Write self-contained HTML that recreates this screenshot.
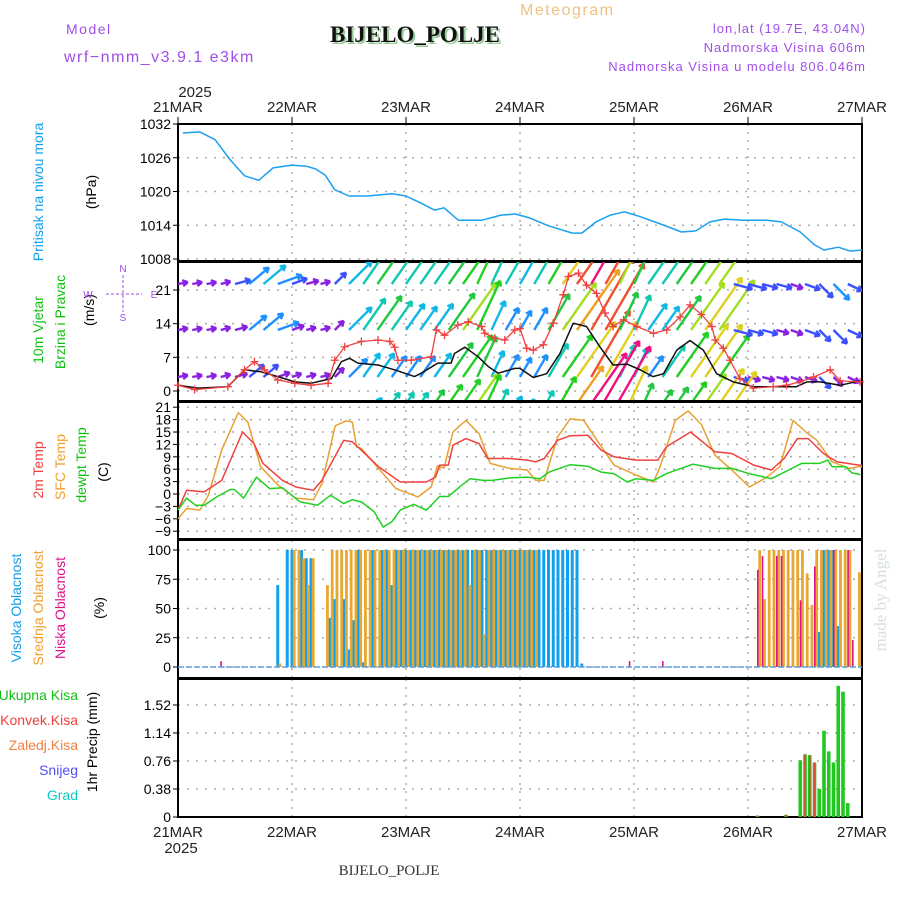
<!DOCTYPE html>
<html><head><meta charset="utf-8">
<style>
html,body{margin:0;padding:0;background:#fff;}
svg{display:block;font-family:"Liberation Sans",sans-serif;}
</style></head>
<body>
<svg id="chart" width="900" height="900" viewBox="0 0 900 900" xmlns="http://www.w3.org/2000/svg">
<defs>
<clipPath id="clipW"><rect x="178" y="262" width="684" height="138"/></clipPath>
</defs>
<text x="66" y="34" font-size="14" fill="#a04ee8" letter-spacing="1.5">Model</text>
<text x="64" y="62" font-size="16" fill="#a04ee8" letter-spacing="1.5">wrf−nmm_v3.9.1 e3km</text>
<text x="332" y="44" font-size="23" font-weight="bold" font-family="Liberation Serif,serif" fill="#9c9">BIJELO_POLJE</text>
<text x="330" y="42" font-size="23" font-weight="bold" font-family="Liberation Serif,serif" fill="#111">BIJELO_POLJE</text>
<text x="520" y="15" font-size="16" fill="#f0c080" letter-spacing="1.5">Meteogram</text>
<text x="866" y="33" font-size="13" fill="#a04ee8" text-anchor="end" letter-spacing="1">lon,lat (19.7E, 43.04N)</text>
<text x="866" y="52" font-size="13" fill="#a04ee8" text-anchor="end" letter-spacing="1">Nadmorska Visina 606m</text>
<text x="866" y="71" font-size="13" fill="#a04ee8" text-anchor="end" letter-spacing="1">Nadmorska Visina u modelu 806.046m</text>
<g id="axes"></g>
<g id="plots"></g>
</svg>
<script>
// ---------- DATA ----------
const dayLabels = ["21MAR","22MAR","23MAR","24MAR","25MAR","26MAR","27MAR"];
const pressureHours = [1,4.6,7.8,11,14,17,20,24,27,29,31,33,36,40,45,48,51,54,56,59,64,68,71,74,78,83,85,88,91,94,97,101,106,109,112,115,119,124,127,131,134,136,139,141.5,144];
const pressureValues = [1030.4,1030.6,1029.2,1025.6,1022.8,1022.0,1024.2,1024.7,1024.5,1024.0,1022.9,1020.3,1019.2,1019.2,1019.6,1019.2,1018.0,1016.7,1017.1,1014.9,1014.9,1015.8,1016.0,1015.3,1013.9,1012.6,1012.6,1014.6,1015.8,1016.4,1015.6,1014.4,1012.8,1013.0,1014.6,1015.1,1014.9,1014.9,1014.6,1012.8,1010.5,1009.6,1010.1,1009.4,1009.6];
const pressureTicks = [1032,1026,1020,1014,1008];

const windTicks = [21,14,7,0];
const speedHours = [0,4.2,10.5,14,17.5,21,24.6,28,32.3,34.4,36.1,37.9,42.1,45.6,49.8,51.2,54.7,57.5,58.2,60.4,63.2,65.3,67.4,70.9,72,74.8,77.6,80.4,83.2,86,88.8,91.6,94.5,97.3,100,102.2,105,107.8,110.6,113.4,116.9,121.1,125.3,130.2,132.4,135.2,139.4,143.6];
const speedValues = [1.2,0.6,0.9,4.4,4,3,1.9,1.6,2.6,6.1,6.8,5.8,5.4,4.4,3,3.7,5.8,5.8,7.8,9.1,7.1,5.1,3.7,4.7,4.7,2.8,3.6,7.8,14.1,13.4,9.2,5.4,5.6,4.4,3,3.6,8.5,10.5,8.5,3.6,1.9,0.9,0.9,0.9,1.9,1.9,1.2,2.1];
const gustHours = [0,3.5,10.5,14,16.1,18.2,21,24.6,28,31.6,33,35.1,38.6,42.1,44.6,45.6,46.3,49.1,53.3,54.4,56.1,58.9,61.1,63.9,64.6,66.7,68.8,70.9,72,73.4,74.8,76.9,79,81.1,82.2,84.3,86,88.1,89.9,91.6,93.8,96.6,100.1,102.9,105.7,107.8,110.2,112.4,113.1,114.8,116.2,118.3,121.1,125.3,128.1,130.9,133.8,137.3,139.4,143.6];
const gustValues = [1.2,0.3,0.9,4.4,6.1,4.4,2.3,1.6,1.2,1.6,6.4,9.2,10.3,10.6,10.3,9.1,6.4,6.4,7.1,12.7,11.6,13.7,14.4,13.4,12,11,10.6,12.7,13,8.9,8.5,9.6,14.1,20,23.8,24.5,22,20.3,16.2,13.4,14.8,13.4,12,12.7,15.4,17.9,15.9,13.4,10.6,8.9,6.4,2.6,0.6,0.9,1.2,1.9,2.9,4.4,2.1,1.9];
// wind arrows every 3 hours, four levels
const windRowA = [3,3,3,3,4,6,6,4,3,3,3,4,8,9,9,8,8,8,9,13,16,14,9,8,7,8,12,16,21,24,20,11,10,8,12,17,20,20,16,5,4,4,4,4,4,5,4,4,4];
const windRowB = [3,3,3,3,4,7,8,7,4,3,3,4,10,12,13,11,10,9,10,14,18,17,10,8,7,8,13,18,23,26,24,13,12,10,9,13,18,20,19,6,5,5,4,4,5,5,6,5,5];
const windRowC = [3,3,3,3,5,8,9,8,5,4,3,5,10,12,13,12,11,11,12,14,17,16,12,11,10,11,15,20,26,28,26,18,13,12,12,14,16,18,18,6,6,5,5,4,5,6,7,5,5];
const windRowD = [2,2,2,2,3,5,6,5,3,3,3,4,8,10,12,12,12,13,15,17,19,17,12,10,9,12,17,22,27,30,28,20,14,13,14,16,19,21,20,4,4,4,4,4,4,5,5,4,4];
const windDir6h = [10,10,15,40,20,15,45,55,55,55,55,65,60,60,55,60,65,55,55,55,-15,-15,-20,-45,-25];

const tempTicks = [21,18,15,12,9,6,3,0,-3,-6,-9];
const t2Hours = [0,1.8,5.5,9.2,13.6,16,17.9,22,24.8,28.5,30.3,34.9,36.7,38.6,42.2,46.8,52.3,54.2,55.1,56.9,57.9,60.6,63.4,65.2,69.8,73.5,75.3,77.1,79.9,82.6,86.3,89.1,91.8,96.4,101,102.8,107.9,113,116.6,121.2,124.9,127.6,130.4,132.7,135.9,138.7,143.3,144];
const t2Values = [-3.9,0.9,0.5,3.3,15,12.2,7.4,3.3,1.7,0.9,3.3,13,12.6,10.6,6.6,2.9,2.9,4.1,7,7,11.8,13.4,12.2,8.6,8.6,8.2,7.8,8.6,13,14.1,14.2,10.6,9,8.2,8.2,11.4,15,10.2,9.8,7,5.8,8.6,13.4,13.4,9.8,7.8,7,7];
const sfcHours = [0,1.8,4.6,6.4,9.2,12.7,14.7,17.4,21.1,24.8,28.5,30.3,33.1,35.4,36.7,37.6,38.6,41.3,45.9,50.5,53.3,54.6,56,57.9,59.2,60.6,63.4,65.7,69.8,73.5,75.3,77.1,79.9,82.6,85.4,88.2,91.8,96.4,100.1,101.5,104.7,107.4,110.2,113,116.6,120.3,124,126.7,129.5,132.2,134.5,137.7,141.4,143.3,144];
const sfcValues = [-6,-3.5,-3.9,-0.3,10.6,19.7,17.4,6.6,2.1,-1,-1.4,2.5,16.5,17.7,17.4,11.4,11,7.4,1.3,-0.7,1.7,6.8,6.3,15,16.4,17.8,14.6,7.4,6.2,5.8,3.3,3.3,13.8,18.2,17.8,13,7,4.6,2.9,6.6,17.8,20.1,16.8,9.4,5.8,1.7,4.1,6.6,17.8,15,13,7.8,6.2,6.6,6.6];
const dewHours = [0,1.8,3.7,5.5,8.3,11,11.9,13.8,16.5,19.3,22,25.7,29.4,32.1,34.9,36.7,38.6,41.3,43.2,45,46.8,49.6,52.3,55.1,56.9,59.7,61.5,64.3,66.1,69.8,73.5,76.2,78.1,82.6,86.3,89.1,91.8,94.6,96.4,100.1,102.8,108.4,113,116.6,120.3,124.9,128.6,131.3,135,136.8,137.7,140.5,141.9,143.7];
const dewValues = [-3.9,-1,-2.7,-2.7,-0.6,1.1,1.1,-1,4.1,1.3,1.5,-1.9,-2.7,-0.3,-2.3,-1.4,-1.9,-4.3,-8,-6.7,-3.9,-2.5,-3.9,-0.6,-0.6,2.1,3.7,3.3,3.3,3.9,4.1,3.7,5.3,7.1,6.7,5.3,4.9,2.9,3.7,3.3,4.9,7.2,6.2,6.2,4.9,3.7,5.8,7.4,7.4,8.2,6.6,6.6,5.1,4.7];

const cloudTicks = [100,75,50,25,0];
const highCloud = [
0,0,0,0,0,0,0,0,0,0, 0,0,0,0,0,0,0,0,0,0,
0,70,0,100,100,0,100,93,93,0, 0,0,42,58,0,58,15,40,100,4,
0,100,0,100,100,70,100,100,100,100, 100,100,100,100,100,100,100,100,100,100,
100,100,100,100,100,100,100,100,100,100, 100,100,100,100,100,100,100,100,100,100,
100,100,100,100,100,3,0,0,0,0, 0,0,0,0,0,0,0,0,0,0,
0,0,0,0,0,0,0,0,0,0, 0,0,0,0,0,0,0,0,0,0,
0,0,0,0,0,0,0,0,0,0, 0,0,0,0,0,30,100,100,100,35,
0,0,0,0,0];
const midCloud = [
0,0,0,0,0,0,0,0,0,0, 0,0,0,0,0,0,0,0,0,0,
0,3,0,0,100,100,93,70,93,0, 0,70,100,100,100,100,100,100,100,100,
100,100,100,100,100,100,100,100,100,100, 100,100,100,100,100,100,100,100,100,100,
100,70,100,100,28,100,100,100,100,100, 100,100,100,100,100,100,0,0,0,0,
0,0,0,0,0,0,0,0,0,0, 0,0,0,0,0,0,0,0,0,0,
0,0,0,0,0,0,0,0,0,0, 0,0,0,0,0,0,0,0,0,0,
0,0,100,58,100,100,100,100,100,100, 100,100,80,53,100,100,100,100,100,100,
100,100,0,81,0];
const lowCloud = [
0,0,0,0,0,0,0,0,0,5, 0,0,0,0,0,0,0,0,0,0,
0,0,0,0,0,0,0,0,0,0, 0,0,0,0,0,0,0,0,0,0,
0,0,0,0,0,0,0,0,0,0, 0,0,0,0,0,0,0,0,0,0,
0,0,0,0,0,0,0,0,0,0, 0,0,0,0,0,0,0,0,0,0,
0,0,0,0,0,0,0,0,0,0, 0,0,0,0,0,5,0,0,0,0,
0,0,5,0,0,0,0,0,0,0, 0,0,0,0,0,0,0,0,0,0,
0,0,83,95,0,0,95,95,0,0, 0,57,0,0,86,0,0,0,100,0,
0,100,23,0,0];

const precipTicks = [1.52,1.14,0.76,0.38,0];
const precipHours = [122,128,131,132,133,134,135,136,137,138,139,140,141];
const precipTotal = [0.02,0.03,0.77,0.85,0.84,0.74,0.38,1.17,0.89,0.74,1.78,1.7,0.19];
const precipConv = [0.02,0.03,0,0.85,0.84,0.74,0,0,0,0,0,0,0];

// ---------- SCALES ----------
const X0=178, X1=862;
const xH = h => X0 + h*(X1-X0)/144;
const yP = p => 124 + (1032-p)*5.625;
const yW = v => 391 - v*4.81;
const yT = t => 494 - t*4.133;
const yC = c => 667 - c*1.17;
const yR = r => 817 - r*73.7;

const NS="http://www.w3.org/2000/svg";
const axes=document.getElementById('axes');
const plots=document.getElementById('plots');
function mk(tag, attrs, parent){
  const e=document.createElementNS(NS,tag);
  for(const k in attrs) e.setAttribute(k,attrs[k]);
  (parent||plots).appendChild(e);
  return e;
}
function txt(x,y,s,size,fill,anchor,rot,parent){
  const t=mk('text',{x:x,y:y,'font-size':size,fill:fill,'text-anchor':anchor||'start'},parent||axes);
  if(rot) t.setAttribute('transform','rotate(-90 '+x+' '+y+')');
  t.textContent=s;
  return t;
}

// ---------- PANELS / GRID ----------
const panels=[[124,261,'pressure'],[262,401,'wind'],[402,539,'temperature'],[540,678,'cloud'],[679,817,'precip']];
panels.forEach(p=>{
  for(let d=1; d<6; d++){
    const gl=mk('line',{x1:xH(d*24),x2:xH(d*24),y1:p[0],y2:p[1],stroke:'#aaa','stroke-width':1.5,'stroke-dasharray':'2,6'},axes);
    
    
  }
});
function hgrid(vals, yf, name, tickFmt){
  vals.forEach(v=>{
    const y=yf(v);
    const g=mk('line',{x1:X0,x2:X1,y1:y,y2:y,stroke:'#aaa','stroke-width':1.5,'stroke-dasharray':'2,7'},axes);
    
    
    const tk=mk('line',{x1:X0-5,x2:X0,y1:y,y2:y,stroke:'#000','stroke-width':1},axes);
    
    
    const t=txt(X0-7,y+5,tickFmt?tickFmt(v):String(v).replace('-','−'),14,'#000','end');
    
    
  });
}
hgrid(pressureTicks,yP,'pressure-axis');
hgrid(windTicks,yW,'wind-axis');
hgrid(tempTicks,yT,'temp-axis');
hgrid(cloudTicks,yC,'cloud-axis');
hgrid(precipTicks,yR,'precip-axis',v=>v===0?'0':String(v));
panels.forEach(p=>{
  const r=mk('rect',{x:X0,y:p[0],width:X1-X0,height:p[1]-p[0],fill:'none',stroke:'#000','stroke-width':2},axes);
  
  
});
dayLabels.forEach((d,i)=>{
  const x=xH(i*24);
  const a=txt(x,112,d,15,'#222','middle');
  
  
  const b=txt(x,837,d,15,'#222','middle');
  
  
  const tk=mk('line',{x1:x,x2:x,y1:117,y2:124,stroke:'#000'},axes);
  
  
});
[[195,97,'top-year-label'],[181,853,'bottom-year-label']].forEach(a=>{
  const t=txt(a[0],a[1],'2025',15,'#222','middle');
  
  
});

// ---------- LEFT LABELS ----------
function rlab(x,y,s,col,name,size){
  const t=txt(x,y,s,size||14,col,'middle',true);
  
  
}
rlab(43,192,'Pritisak na nivou mora','#10a0f0','pressure-title');
rlab(96,192,'(hPa)','#000','pressure-unit');
rlab(43,330,'10m Vjetar','#10c010','wind-title-1');
rlab(65,322,'Brzina i Pravac','#10c010','wind-title-2');
rlab(94,310,'(m/s)','#000','wind-unit');
rlab(43,470,'2m Temp','#f04040','temp-2m-title');
rlab(65,467,'SFC Temp','#f0a030','temp-sfc-title');
rlab(86,465,'dewpt Temp','#10c010','temp-dew-title');
rlab(108,472,'(C)','#000','temp-unit');
rlab(21,608,'Visoka Oblacnost','#10a0f0','cloud-high-title');
rlab(43,608,'Srednja Oblacnost','#f0a030','cloud-mid-title');
rlab(65,608,'Niska Oblacnost','#e0108a','cloud-low-title');
rlab(104,608,'(%)','#000','cloud-unit');
rlab(97,742,'1hr Precip (mm)','#000','precip-title');
[['Ukupna Kisa','#10c010',700],['Konvek.Kisa','#f04040',725],['Zaledj.Kisa','#f08040',750],['Snijeg','#5050f0',775],['Grad','#10c8c8',800]].forEach(l=>{
  const t=txt(78,l[2],l[0],14,l[1],'end');
  
  
});
// compass
const cg=mk('g',{stroke:'#a04ee8','stroke-width':1,fill:'none','stroke-dasharray':'3,2'},axes);


mk('line',{x1:106,x2:142,y1:294,y2:294},cg);
mk('line',{x1:123,x2:123,y1:275,y2:312},cg);
[['N',123,272],['S',123,321],['W',88,298],['E',154,298]].forEach(c=>{
  const t=txt(c[1],c[2],c[0],10,'#a04ee8','middle');
  
  
});
const mb=txt(886,600,'made by Angel',17,'#d4e2d4','middle',true);
mb.setAttribute('font-family','Liberation Serif,serif');


const bt=txt(389,875,'BIJELO_POLJE',15,'#333','middle');
bt.setAttribute('font-family','Liberation Serif,serif');



// ---------- SERIES ----------
function line(hours, vals, yf, col, name, w, parent){
  const d=hours.map((h,i)=>(i?'L':'M')+xH(h).toFixed(1)+','+yf(vals[i]).toFixed(1)).join('');
  const p=mk('path',{d:d,fill:'none',stroke:col,'stroke-width':w||1.5,'stroke-linejoin':'round'},parent);
  
  
  return p;
}
line(pressureHours,pressureValues,yP,'#1aa0f0','pressure-line',1.5);

// wind arrows
function speedColor(s){
  if(s<5) return '#8a20e0';
  if(s<7) return '#3b50ff';
  if(s<9) return '#1e90ff';
  if(s<11) return '#10b8e8';
  if(s<13) return '#10c8b0';
  if(s<15) return '#20c840';
  if(s<18) return '#20d020';
  if(s<20) return '#a0e020';
  if(s<22) return '#e0d020';
  if(s<24) return '#f0a020';
  if(s<27) return '#f05030';
  return '#f01080';
}
const wg=mk('g',{'clip-path':'url(#clipW)'});


[[windRowA,377],[windRowB,330],[windRowC,284],[windRowD,424]].forEach(row=>{
  row[0].forEach((s,i)=>{
    const h=i*3;
    const a=windDir6h[Math.round(h/6)]*Math.PI/180;
    const L=Math.max(s*3.2,10);
    const x1=xH(h), y1=row[1];
    const x2=x1+L*Math.cos(a), y2=y1-L*Math.sin(a);
    const col=speedColor(s);
    const ag=mk('g',{stroke:col,'stroke-width':2.4,fill:'none'},wg);
    
    
    mk('line',{x1:x1,y1:y1,x2:x2,y2:y2},ag);
    const hl=6;
    [2.6,-2.6].forEach(o=>{
      const b=a+Math.PI+o/5;
      mk('line',{x1:x2,y1:y2,x2:x2+hl*Math.cos(b),y2:y2-hl*Math.sin(b)},ag);
    });
  });
});
line(speedHours,speedValues,yW,'#111','wind-speed-line',1.5);
line(gustHours,gustValues,yW,'#f04040','wind-gust-line',1.3);
gustHours.forEach((h,i)=>{
  const x=xH(h), y=yW(gustValues[i]);
  const c=mk('path',{d:`M${x-4},${y}H${x+4}M${x},${y-4}V${y+4}`,stroke:'#f04040','stroke-width':1.3});
  
  
});

// temperatures
line(sfcHours,sfcValues,yT,'#e8a030','sfc-temp-line',1.5);
line(t2Hours,t2Values,yT,'#f04040','temp-2m-line',1.5);
line(dewHours,dewValues,yT,'#20d020','dewpoint-line',1.5);

// clouds
highCloud.forEach((v,h)=>{
  if(v<=0) return;
  const r=mk('rect',{x:xH(h)-1.5,y:yC(v),width:3,height:667-yC(v),fill:'#10a0f0'});
  
  
});
midCloud.forEach((v,h)=>{
  if(v<=0) return;
  const r=mk('rect',{x:xH(h)+0.8,y:yC(v),width:2.8,height:667-yC(v),fill:'#e8a830'});
  
  
});
lowCloud.forEach((v,h)=>{
  if(v<=0) return;
  const r=mk('rect',{x:xH(h)-0.5,y:yC(v),width:1.6,height:667-yC(v),fill:'#e0108a'});
  
  
});
const cb=mk('line',{x1:X0,x2:X1,y1:667,y2:667,stroke:'#60a0e0','stroke-width':1.5,'stroke-dasharray':'6,2'});



// precip
precipHours.forEach((h,i)=>{
  const v=precipTotal[i];
  const r=mk('rect',{x:xH(h)-1.8,y:yR(v),width:3.6,height:817-yR(v),fill:'#20c820'});
  
  
  const c=precipConv[i];
  if(c>0){
    const rc=mk('rect',{x:xH(h)-0.8,y:yR(c),width:1.6,height:817-yR(c),fill:'#f04040'});
    
    
  }
});
</script>
</body></html>
